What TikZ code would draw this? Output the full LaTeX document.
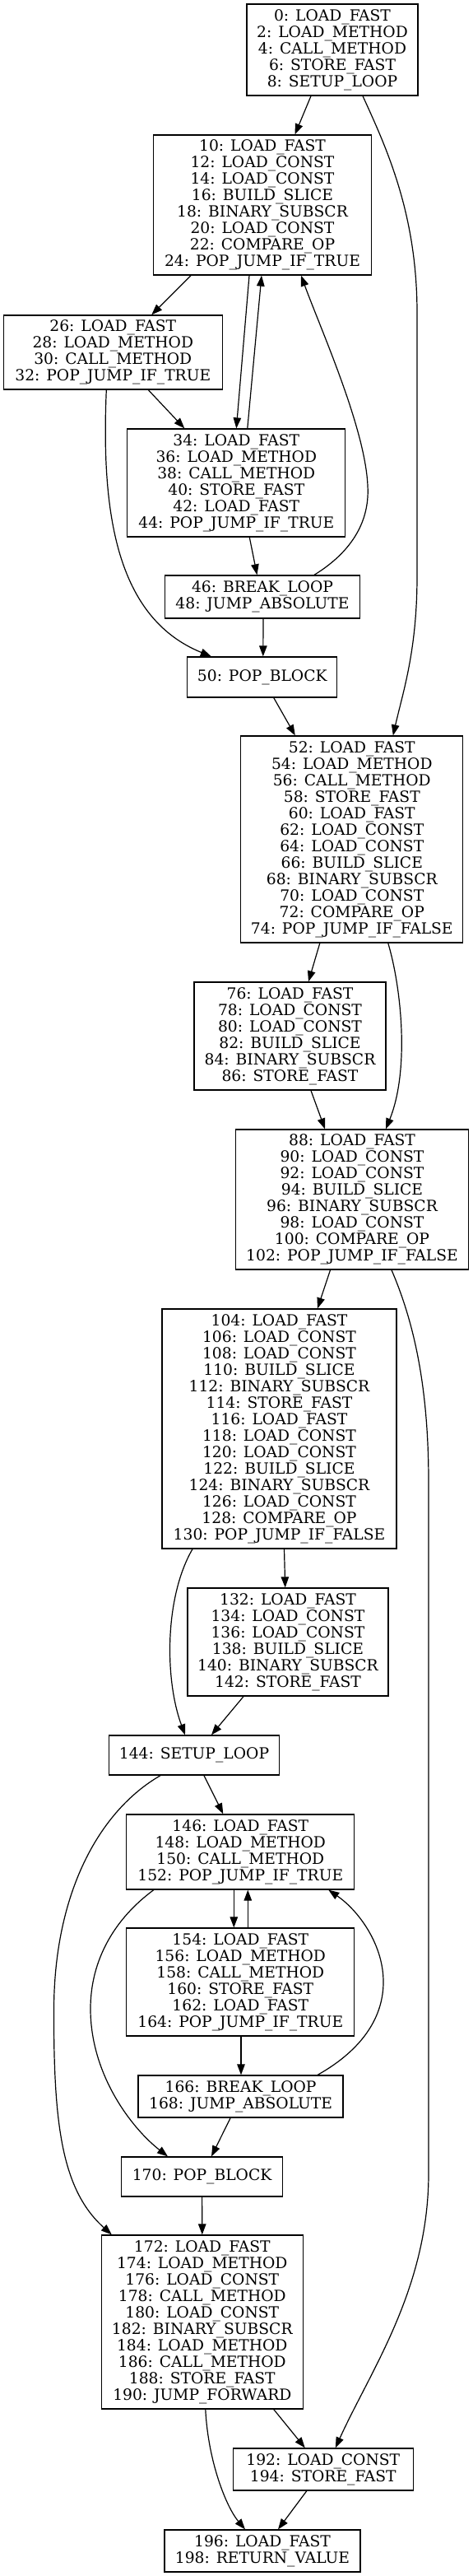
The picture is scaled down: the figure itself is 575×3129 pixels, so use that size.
\documentclass[tikz,border=0pt]{standalone}
\usepackage{fontspec}
\setmainfont{DejaVu Serif}
\usetikzlibrary{arrows.meta}
\tikzset{
  blk/.style={draw=black, line width=1.3pt, inner sep=0pt, align=center,
    font=\fontsize{18.7}{20}\selectfont},
  flow/.style={line width=1.2pt, -{Triangle[length=13pt,width=9.5pt]}}
}
\begin{document}
\begin{tikzpicture}[x=1pt,y=-1pt]
\useasboundingbox (0,0) rectangle (575,3129);
\node[blk, minimum width=208pt, minimum height=111pt] (n0) at (404,60.5)
  {0: LOAD\_FAST\\2: LOAD\_METHOD\\4: CALL\_METHOD\\6: STORE\_FAST\\8: SETUP\_LOOP};
\node[blk, minimum width=265pt, minimum height=170pt] (n10) at (319,249)
  {10: LOAD\_FAST\\12: LOAD\_CONST\\14: LOAD\_CONST\\16: BUILD\_SLICE\\18: BINARY\_SUBSCR\\20: LOAD\_CONST\\22: COMPARE\_OP\\24: POP\_JUMP\_IF\_TRUE};
\node[blk, minimum width=266pt, minimum height=90pt] (n26) at (137.3,428)
  {26: LOAD\_FAST\\28: LOAD\_METHOD\\30: CALL\_METHOD\\32: POP\_JUMP\_IF\_TRUE};
\node[blk, minimum width=265pt, minimum height=131pt] (n34) at (287.3,586.5)
  {34: LOAD\_FAST\\36: LOAD\_METHOD\\38: CALL\_METHOD\\40: STORE\_FAST\\42: LOAD\_FAST\\44: POP\_JUMP\_IF\_TRUE};
\node[blk, minimum width=237pt, minimum height=52pt] (n46) at (319,725)
  {46: BREAK\_LOOP\\48: JUMP\_ABSOLUTE};
\node[blk, minimum width=182pt, minimum height=49pt] (n50) at (318.8,822.5)
  {50: POP\_BLOCK};
\node[blk, minimum width=270pt, minimum height=251pt] (n52) at (427.8,1019.5)
  {52: LOAD\_FAST\\54: LOAD\_METHOD\\56: CALL\_METHOD\\58: STORE\_FAST\\60: LOAD\_FAST\\62: LOAD\_CONST\\64: LOAD\_CONST\\66: BUILD\_SLICE\\68: BINARY\_SUBSCR\\70: LOAD\_CONST\\72: COMPARE\_OP\\74: POP\_JUMP\_IF\_FALSE};
\node[blk, minimum width=233pt, minimum height=131pt] (n76) at (352.5,1258.5)
  {76: LOAD\_FAST\\78: LOAD\_CONST\\80: LOAD\_CONST\\82: BUILD\_SLICE\\84: BINARY\_SUBSCR\\86: STORE\_FAST};
\node[blk, minimum width=283pt, minimum height=170pt] (n88) at (428,1457)
  {88: LOAD\_FAST\\90: LOAD\_CONST\\92: LOAD\_CONST\\94: BUILD\_SLICE\\96: BINARY\_SUBSCR\\98: LOAD\_CONST\\100: COMPARE\_OP\\102: POP\_JUMP\_IF\_FALSE};
\node[blk, minimum width=285pt, minimum height=291pt] (n104) at (339.5,1735.5)
  {104: LOAD\_FAST\\106: LOAD\_CONST\\108: LOAD\_CONST\\110: BUILD\_SLICE\\112: BINARY\_SUBSCR\\114: STORE\_FAST\\116: LOAD\_FAST\\118: LOAD\_CONST\\120: LOAD\_CONST\\122: BUILD\_SLICE\\124: BINARY\_SUBSCR\\126: LOAD\_CONST\\128: COMPARE\_OP\\130: POP\_JUMP\_IF\_FALSE};
\node[blk, minimum width=244pt, minimum height=131pt] (n132) at (350,1994.5)
  {132: LOAD\_FAST\\134: LOAD\_CONST\\136: LOAD\_CONST\\138: BUILD\_SLICE\\140: BINARY\_SUBSCR\\142: STORE\_FAST};
\node[blk, minimum width=207pt, minimum height=48pt] (n144) at (236,2132)
  {144: SETUP\_LOOP};
\node[blk, minimum width=277pt, minimum height=91pt] (n146) at (292.3,2249.5)
  {146: LOAD\_FAST\\148: LOAD\_METHOD\\150: CALL\_METHOD\\152: POP\_JUMP\_IF\_TRUE};
\node[blk, minimum width=277pt, minimum height=131pt] (n154) at (292.3,2407.5)
  {154: LOAD\_FAST\\156: LOAD\_METHOD\\158: CALL\_METHOD\\160: STORE\_FAST\\162: LOAD\_FAST\\164: POP\_JUMP\_IF\_TRUE};
\node[blk, minimum width=249pt, minimum height=51pt] (n166) at (292.6,2546.5)
  {166: BREAK\_LOOP\\168: JUMP\_ABSOLUTE};
\node[blk, minimum width=196pt, minimum height=48pt] (n170) at (245.6,2644)
  {170: POP\_BLOCK};
\node[blk, minimum width=245pt, minimum height=211pt] (n172) at (245.8,2820.5)
  {172: LOAD\_FAST\\174: LOAD\_METHOD\\176: LOAD\_CONST\\178: CALL\_METHOD\\180: LOAD\_CONST\\182: BINARY\_SUBSCR\\184: LOAD\_METHOD\\186: CALL\_METHOD\\188: STORE\_FAST\\190: JUMP\_FORWARD};
\node[blk, minimum width=219pt, minimum height=51pt] (n192) at (392.8,2999.5)
  {192: LOAD\_CONST\\194: STORE\_FAST};
\node[blk, minimum width=238pt, minimum height=51pt] (n196) at (319,3098.5)
  {196: LOAD\_FAST\\198: RETURN\_VALUE};

% edges
\draw[flow] ([xshift=-26pt]n0.south) -- ([xshift=39.5pt]n10.north);
\draw[flow] ([xshift=37pt]n0.south) .. controls (470,180) and (507,260) .. (507,380)
  -- (507,700) .. controls (507,790) and (490,840) .. ([xshift=50pt]n52.north);
\draw[flow] ([xshift=-87pt]n10.south) -- ([xshift=47pt]n26.north);
\draw[flow] ([xshift=-16pt]n10.south) -- ([xshift=0pt]n34.north);
\draw[flow] ([xshift=13.5pt]n34.north) -- ([xshift=-1pt]n10.south);
\draw[flow] ([xshift=43pt]n26.south) -- ([xshift=-63pt]n34.north);
\draw[flow] ([xshift=-8pt]n26.south) .. controls (123,620) and (140,750) .. ([xshift=-62pt]n50.north);
\draw[flow] ([xshift=16pt]n34.south) -- ([xshift=-6.5pt]n46.north);
\draw[flow] ([xshift=63pt]n46.north) .. controls (420,675) and (450,640) .. (447,590)
  .. controls (444,520) and (390,400) .. ([xshift=47pt]n10.south);
\draw[flow] ([xshift=1pt]n46.south) -- ([xshift=1pt]n50.north);
\draw[flow] ([xshift=14pt]n50.south) -- ([xshift=-69pt]n52.north);
\draw[flow] ([xshift=-39pt]n52.south) -- ([xshift=22.5pt]n76.north);
\draw[flow] ([xshift=44pt]n52.south) .. controls (488,1200) and (498,1300) .. ([xshift=41pt]n88.north);
\draw[flow] ([xshift=25.5pt]n76.south) -- ([xshift=-33pt]n88.north);
\draw[flow] ([xshift=-26.5pt]n88.south) -- ([xshift=46.5pt]n104.north);
\draw[flow] ([xshift=48pt]n88.south) .. controls (505,1610) and (521,1690) .. (521,1800)
  -- (521,2640) .. controls (521,2780) and (450,2880) .. ([xshift=15pt]n192.north);
\draw[flow] ([xshift=-105.5pt]n104.south) .. controls (200,1940) and (200,2040) .. ([xshift=-11pt]n144.north);
\draw[flow] ([xshift=6pt]n104.south) -- ([xshift=-3.3pt]n132.north);
\draw[flow] ([xshift=-54pt]n132.south) -- ([xshift=21pt]n144.north);
\draw[flow] ([xshift=12pt]n144.south) -- ([xshift=-21pt]n146.north);
\draw[flow] ([xshift=-41pt]n144.south) .. controls (120,2200) and (66,2300) .. (65.5,2440)
  .. controls (65,2580) and (75,2660) .. ([xshift=-110pt]n172.north);
\draw[flow] ([xshift=-8pt]n146.south) -- ([xshift=-8pt]n154.north);
\draw[flow] ([xshift=9pt]n154.north) -- ([xshift=9pt]n146.south);
\draw[flow] ([xshift=-105.5pt]n146.south) .. controls (140,2330) and (110,2380) .. (110,2440)
  .. controls (110,2520) and (160,2585) .. ([xshift=-41.6pt]n170.north);
\draw[flow] ([xshift=0.7pt]n154.south) -- ([xshift=0.4pt]n166.north);
\draw[flow] ([xshift=93.5pt]n166.north) .. controls (440,2490) and (467,2450) .. (466,2405)
  .. controls (465,2360) and (435,2320) .. ([xshift=107pt]n146.south);
\draw[flow] ([xshift=-12.5pt]n166.south) -- ([xshift=11.4pt]n170.north);
\draw[flow] (n170.south) -- (n172.north);
\draw[flow] ([xshift=87pt]n172.south) -- ([xshift=-22pt]n192.north);
\draw[flow] ([xshift=4pt]n172.south) .. controls (253,2990) and (275,3045) .. ([xshift=-21pt]n196.north);
\draw[flow] ([xshift=-20pt]n192.south) -- ([xshift=19pt]n196.north);
\end{tikzpicture}
\end{document}
